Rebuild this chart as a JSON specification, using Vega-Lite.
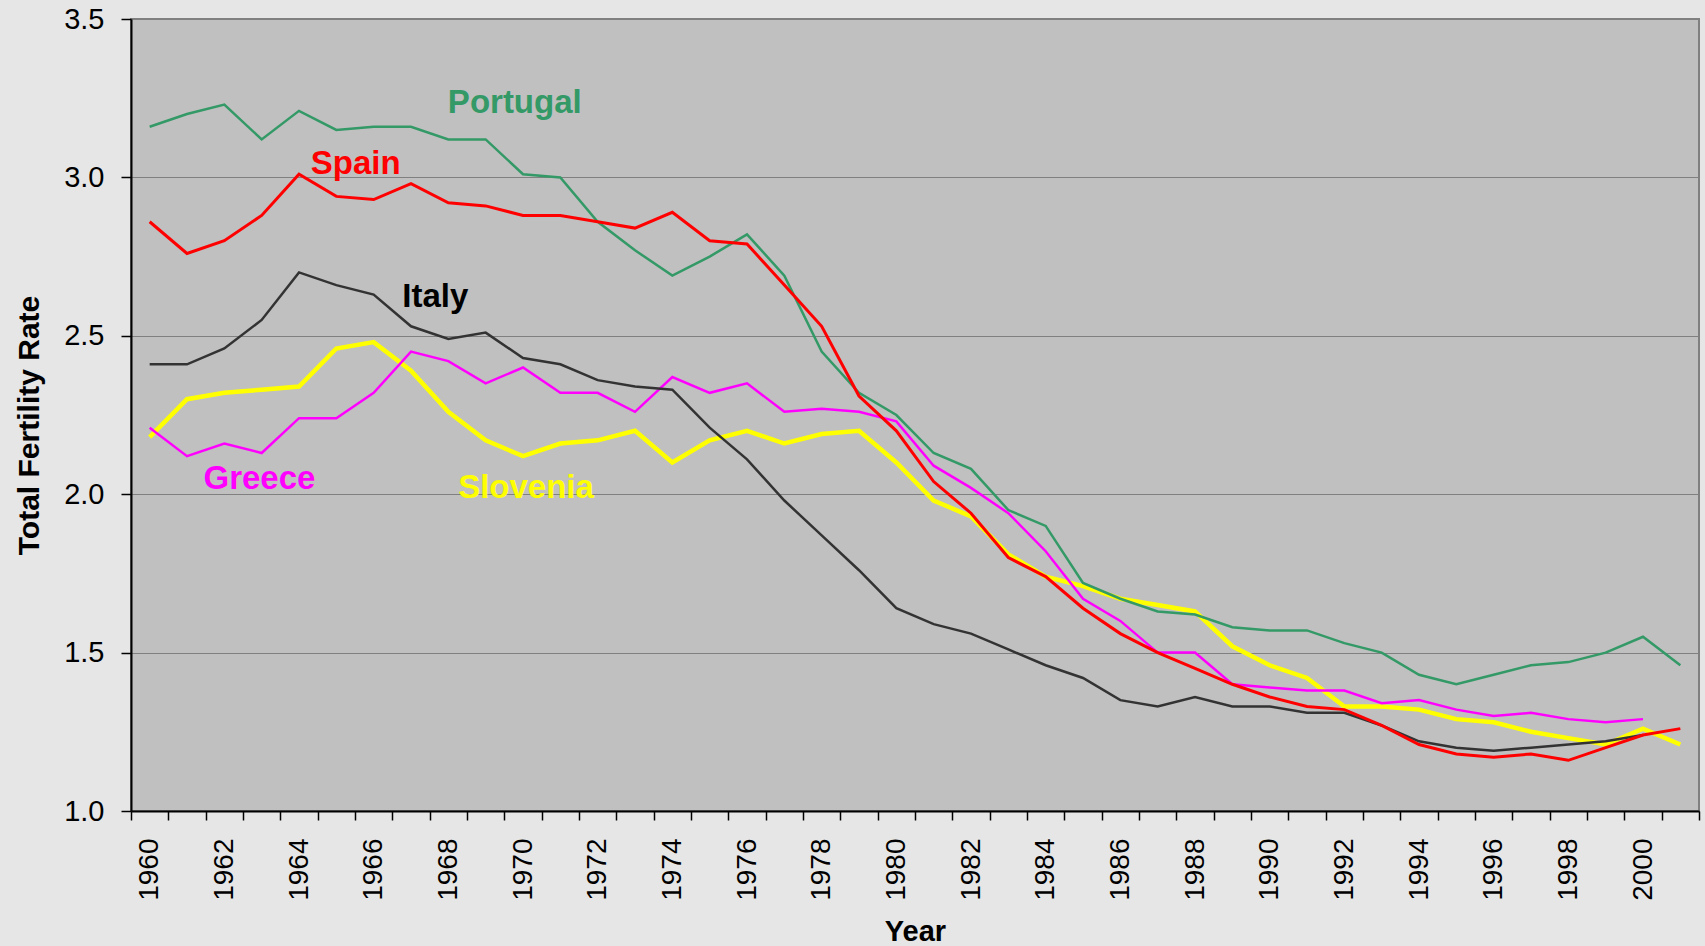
{
  "$schema": "https://vega.github.io/schema/vega-lite/v6.json",
  "width": 1568,
  "height": 792,
  "autosize": {"type": "none"},
  "padding": {"left": 131, "top": 19, "right": 6, "bottom": 135},
  "background": "#E6E6E6",
  "config": {
    "view": {"fill": "#C0C0C0", "stroke": "#808080", "strokeWidth": 2},
    "font": "Liberation Sans"
  },
  "datasets": {
    "tfr": [
      {"country": "Portugal", "year": 1960, "rate": 3.16}, {"country": "Portugal", "year": 1961, "rate": 3.20}, {"country": "Portugal", "year": 1962, "rate": 3.23}, {"country": "Portugal", "year": 1963, "rate": 3.12}, {"country": "Portugal", "year": 1964, "rate": 3.21}, {"country": "Portugal", "year": 1965, "rate": 3.15}, {"country": "Portugal", "year": 1966, "rate": 3.16}, {"country": "Portugal", "year": 1967, "rate": 3.16}, {"country": "Portugal", "year": 1968, "rate": 3.12}, {"country": "Portugal", "year": 1969, "rate": 3.12}, {"country": "Portugal", "year": 1970, "rate": 3.01}, {"country": "Portugal", "year": 1971, "rate": 3.00}, {"country": "Portugal", "year": 1972, "rate": 2.86}, {"country": "Portugal", "year": 1973, "rate": 2.77}, {"country": "Portugal", "year": 1974, "rate": 2.69}, {"country": "Portugal", "year": 1975, "rate": 2.75}, {"country": "Portugal", "year": 1976, "rate": 2.82}, {"country": "Portugal", "year": 1977, "rate": 2.69}, {"country": "Portugal", "year": 1978, "rate": 2.45}, {"country": "Portugal", "year": 1979, "rate": 2.32}, {"country": "Portugal", "year": 1980, "rate": 2.25}, {"country": "Portugal", "year": 1981, "rate": 2.13}, {"country": "Portugal", "year": 1982, "rate": 2.08}, {"country": "Portugal", "year": 1983, "rate": 1.95}, {"country": "Portugal", "year": 1984, "rate": 1.90}, {"country": "Portugal", "year": 1985, "rate": 1.72}, {"country": "Portugal", "year": 1986, "rate": 1.67}, {"country": "Portugal", "year": 1987, "rate": 1.63}, {"country": "Portugal", "year": 1988, "rate": 1.62}, {"country": "Portugal", "year": 1989, "rate": 1.58}, {"country": "Portugal", "year": 1990, "rate": 1.57}, {"country": "Portugal", "year": 1991, "rate": 1.57}, {"country": "Portugal", "year": 1992, "rate": 1.53}, {"country": "Portugal", "year": 1993, "rate": 1.50}, {"country": "Portugal", "year": 1994, "rate": 1.43}, {"country": "Portugal", "year": 1995, "rate": 1.40}, {"country": "Portugal", "year": 1996, "rate": 1.43}, {"country": "Portugal", "year": 1997, "rate": 1.46}, {"country": "Portugal", "year": 1998, "rate": 1.47}, {"country": "Portugal", "year": 1999, "rate": 1.50}, {"country": "Portugal", "year": 2000, "rate": 1.55}, {"country": "Portugal", "year": 2001, "rate": 1.46},
      {"country": "Spain", "year": 1960, "rate": 2.86}, {"country": "Spain", "year": 1961, "rate": 2.76}, {"country": "Spain", "year": 1962, "rate": 2.80}, {"country": "Spain", "year": 1963, "rate": 2.88}, {"country": "Spain", "year": 1964, "rate": 3.01}, {"country": "Spain", "year": 1965, "rate": 2.94}, {"country": "Spain", "year": 1966, "rate": 2.93}, {"country": "Spain", "year": 1967, "rate": 2.98}, {"country": "Spain", "year": 1968, "rate": 2.92}, {"country": "Spain", "year": 1969, "rate": 2.91}, {"country": "Spain", "year": 1970, "rate": 2.88}, {"country": "Spain", "year": 1971, "rate": 2.88}, {"country": "Spain", "year": 1972, "rate": 2.86}, {"country": "Spain", "year": 1973, "rate": 2.84}, {"country": "Spain", "year": 1974, "rate": 2.89}, {"country": "Spain", "year": 1975, "rate": 2.80}, {"country": "Spain", "year": 1976, "rate": 2.79}, {"country": "Spain", "year": 1977, "rate": 2.66}, {"country": "Spain", "year": 1978, "rate": 2.53}, {"country": "Spain", "year": 1979, "rate": 2.31}, {"country": "Spain", "year": 1980, "rate": 2.20}, {"country": "Spain", "year": 1981, "rate": 2.04}, {"country": "Spain", "year": 1982, "rate": 1.94}, {"country": "Spain", "year": 1983, "rate": 1.80}, {"country": "Spain", "year": 1984, "rate": 1.74}, {"country": "Spain", "year": 1985, "rate": 1.64}, {"country": "Spain", "year": 1986, "rate": 1.56}, {"country": "Spain", "year": 1987, "rate": 1.50}, {"country": "Spain", "year": 1988, "rate": 1.45}, {"country": "Spain", "year": 1989, "rate": 1.40}, {"country": "Spain", "year": 1990, "rate": 1.36}, {"country": "Spain", "year": 1991, "rate": 1.33}, {"country": "Spain", "year": 1992, "rate": 1.32}, {"country": "Spain", "year": 1993, "rate": 1.27}, {"country": "Spain", "year": 1994, "rate": 1.21}, {"country": "Spain", "year": 1995, "rate": 1.18}, {"country": "Spain", "year": 1996, "rate": 1.17}, {"country": "Spain", "year": 1997, "rate": 1.18}, {"country": "Spain", "year": 1998, "rate": 1.16}, {"country": "Spain", "year": 1999, "rate": 1.20}, {"country": "Spain", "year": 2000, "rate": 1.24}, {"country": "Spain", "year": 2001, "rate": 1.26},
      {"country": "Italy", "year": 1960, "rate": 2.41}, {"country": "Italy", "year": 1961, "rate": 2.41}, {"country": "Italy", "year": 1962, "rate": 2.46}, {"country": "Italy", "year": 1963, "rate": 2.55}, {"country": "Italy", "year": 1964, "rate": 2.70}, {"country": "Italy", "year": 1965, "rate": 2.66}, {"country": "Italy", "year": 1966, "rate": 2.63}, {"country": "Italy", "year": 1967, "rate": 2.53}, {"country": "Italy", "year": 1968, "rate": 2.49}, {"country": "Italy", "year": 1969, "rate": 2.51}, {"country": "Italy", "year": 1970, "rate": 2.43}, {"country": "Italy", "year": 1971, "rate": 2.41}, {"country": "Italy", "year": 1972, "rate": 2.36}, {"country": "Italy", "year": 1973, "rate": 2.34}, {"country": "Italy", "year": 1974, "rate": 2.33}, {"country": "Italy", "year": 1975, "rate": 2.21}, {"country": "Italy", "year": 1976, "rate": 2.11}, {"country": "Italy", "year": 1977, "rate": 1.98}, {"country": "Italy", "year": 1978, "rate": 1.87}, {"country": "Italy", "year": 1979, "rate": 1.76}, {"country": "Italy", "year": 1980, "rate": 1.64}, {"country": "Italy", "year": 1981, "rate": 1.59}, {"country": "Italy", "year": 1982, "rate": 1.56}, {"country": "Italy", "year": 1983, "rate": 1.51}, {"country": "Italy", "year": 1984, "rate": 1.46}, {"country": "Italy", "year": 1985, "rate": 1.42}, {"country": "Italy", "year": 1986, "rate": 1.35}, {"country": "Italy", "year": 1987, "rate": 1.33}, {"country": "Italy", "year": 1988, "rate": 1.36}, {"country": "Italy", "year": 1989, "rate": 1.33}, {"country": "Italy", "year": 1990, "rate": 1.33}, {"country": "Italy", "year": 1991, "rate": 1.31}, {"country": "Italy", "year": 1992, "rate": 1.31}, {"country": "Italy", "year": 1993, "rate": 1.27}, {"country": "Italy", "year": 1994, "rate": 1.22}, {"country": "Italy", "year": 1995, "rate": 1.20}, {"country": "Italy", "year": 1996, "rate": 1.19}, {"country": "Italy", "year": 1997, "rate": 1.20}, {"country": "Italy", "year": 1998, "rate": 1.21}, {"country": "Italy", "year": 1999, "rate": 1.22}, {"country": "Italy", "year": 2000, "rate": 1.24},
      {"country": "Greece", "year": 1960, "rate": 2.21}, {"country": "Greece", "year": 1961, "rate": 2.12}, {"country": "Greece", "year": 1962, "rate": 2.16}, {"country": "Greece", "year": 1963, "rate": 2.13}, {"country": "Greece", "year": 1964, "rate": 2.24}, {"country": "Greece", "year": 1965, "rate": 2.24}, {"country": "Greece", "year": 1966, "rate": 2.32}, {"country": "Greece", "year": 1967, "rate": 2.45}, {"country": "Greece", "year": 1968, "rate": 2.42}, {"country": "Greece", "year": 1969, "rate": 2.35}, {"country": "Greece", "year": 1970, "rate": 2.40}, {"country": "Greece", "year": 1971, "rate": 2.32}, {"country": "Greece", "year": 1972, "rate": 2.32}, {"country": "Greece", "year": 1973, "rate": 2.26}, {"country": "Greece", "year": 1974, "rate": 2.37}, {"country": "Greece", "year": 1975, "rate": 2.32}, {"country": "Greece", "year": 1976, "rate": 2.35}, {"country": "Greece", "year": 1977, "rate": 2.26}, {"country": "Greece", "year": 1978, "rate": 2.27}, {"country": "Greece", "year": 1979, "rate": 2.26}, {"country": "Greece", "year": 1980, "rate": 2.23}, {"country": "Greece", "year": 1981, "rate": 2.09}, {"country": "Greece", "year": 1982, "rate": 2.02}, {"country": "Greece", "year": 1983, "rate": 1.94}, {"country": "Greece", "year": 1984, "rate": 1.82}, {"country": "Greece", "year": 1985, "rate": 1.67}, {"country": "Greece", "year": 1986, "rate": 1.60}, {"country": "Greece", "year": 1987, "rate": 1.50}, {"country": "Greece", "year": 1988, "rate": 1.50}, {"country": "Greece", "year": 1989, "rate": 1.40}, {"country": "Greece", "year": 1990, "rate": 1.39}, {"country": "Greece", "year": 1991, "rate": 1.38}, {"country": "Greece", "year": 1992, "rate": 1.38}, {"country": "Greece", "year": 1993, "rate": 1.34}, {"country": "Greece", "year": 1994, "rate": 1.35}, {"country": "Greece", "year": 1995, "rate": 1.32}, {"country": "Greece", "year": 1996, "rate": 1.30}, {"country": "Greece", "year": 1997, "rate": 1.31}, {"country": "Greece", "year": 1998, "rate": 1.29}, {"country": "Greece", "year": 1999, "rate": 1.28}, {"country": "Greece", "year": 2000, "rate": 1.29},
      {"country": "Slovenia", "year": 1960, "rate": 2.18}, {"country": "Slovenia", "year": 1961, "rate": 2.30}, {"country": "Slovenia", "year": 1962, "rate": 2.32}, {"country": "Slovenia", "year": 1963, "rate": 2.33}, {"country": "Slovenia", "year": 1964, "rate": 2.34}, {"country": "Slovenia", "year": 1965, "rate": 2.46}, {"country": "Slovenia", "year": 1966, "rate": 2.48}, {"country": "Slovenia", "year": 1967, "rate": 2.39}, {"country": "Slovenia", "year": 1968, "rate": 2.26}, {"country": "Slovenia", "year": 1969, "rate": 2.17}, {"country": "Slovenia", "year": 1970, "rate": 2.12}, {"country": "Slovenia", "year": 1971, "rate": 2.16}, {"country": "Slovenia", "year": 1972, "rate": 2.17}, {"country": "Slovenia", "year": 1973, "rate": 2.20}, {"country": "Slovenia", "year": 1974, "rate": 2.10}, {"country": "Slovenia", "year": 1975, "rate": 2.17}, {"country": "Slovenia", "year": 1976, "rate": 2.20}, {"country": "Slovenia", "year": 1977, "rate": 2.16}, {"country": "Slovenia", "year": 1978, "rate": 2.19}, {"country": "Slovenia", "year": 1979, "rate": 2.20}, {"country": "Slovenia", "year": 1980, "rate": 2.10}, {"country": "Slovenia", "year": 1981, "rate": 1.98}, {"country": "Slovenia", "year": 1982, "rate": 1.93}, {"country": "Slovenia", "year": 1983, "rate": 1.81}, {"country": "Slovenia", "year": 1984, "rate": 1.74}, {"country": "Slovenia", "year": 1985, "rate": 1.71}, {"country": "Slovenia", "year": 1986, "rate": 1.67}, {"country": "Slovenia", "year": 1987, "rate": 1.65}, {"country": "Slovenia", "year": 1988, "rate": 1.63}, {"country": "Slovenia", "year": 1989, "rate": 1.52}, {"country": "Slovenia", "year": 1990, "rate": 1.46}, {"country": "Slovenia", "year": 1991, "rate": 1.42}, {"country": "Slovenia", "year": 1992, "rate": 1.33}, {"country": "Slovenia", "year": 1993, "rate": 1.33}, {"country": "Slovenia", "year": 1994, "rate": 1.32}, {"country": "Slovenia", "year": 1995, "rate": 1.29}, {"country": "Slovenia", "year": 1996, "rate": 1.28}, {"country": "Slovenia", "year": 1997, "rate": 1.25}, {"country": "Slovenia", "year": 1998, "rate": 1.23}, {"country": "Slovenia", "year": 1999, "rate": 1.21}, {"country": "Slovenia", "year": 2000, "rate": 1.26}, {"country": "Slovenia", "year": 2001, "rate": 1.21}
    ],
    "labels": [
      {"country": "Portugal", "year": 1969.78, "rate": 3.236},
      {"country": "Spain", "year": 1965.52, "rate": 3.043},
      {"country": "Italy", "year": 1967.65, "rate": 2.623},
      {"country": "Greece", "year": 1962.94, "rate": 2.047},
      {"country": "Slovenia", "year": 1970.08, "rate": 2.020}
    ]
  },
  "resolve": {"axis": {"x": "independent"}},
  "layer": [
    {
      "data": {"name": "tfr"},
      "transform": [{"filter": "datum.country == 'Slovenia'"}],
      "mark": {"type": "line", "color": "#FFFF00", "strokeWidth": 4.5},
      "encoding": {
        "x": {
          "field": "year", "type": "quantitative",
          "scale": {"domain": [1959.5, 2001.5], "nice": false, "zero": false},
          "axis": {
            "orient": "bottom",
            "values": [1959.5, 1960.5, 1961.5, 1962.5, 1963.5, 1964.5, 1965.5, 1966.5, 1967.5, 1968.5, 1969.5, 1970.5, 1971.5, 1972.5, 1973.5, 1974.5, 1975.5, 1976.5, 1977.5, 1978.5, 1979.5, 1980.5, 1981.5, 1982.5, 1983.5, 1984.5, 1985.5, 1986.5, 1987.5, 1988.5, 1989.5, 1990.5, 1991.5, 1992.5, 1993.5, 1994.5, 1995.5, 1996.5, 1997.5, 1998.5, 1999.5, 2000.5, 2001.5],
            "labels": false, "ticks": true, "tickSize": 9, "tickColor": "#000000", "tickWidth": 1.5,
            "domain": true, "domainColor": "#000000", "domainWidth": 2,
            "grid": false, "title": null
          }
        },
        "y": {
          "field": "rate", "type": "quantitative",
          "scale": {"domain": [1, 3.5], "nice": false, "zero": false},
          "axis": {
            "values": [1, 1.5, 2, 2.5, 3, 3.5], "format": ".1f",
            "labelFontSize": 29, "labelColor": "#000000", "labelPadding": 17, "labelFlush": false,
            "tickSize": 10, "tickColor": "#000000", "tickWidth": 1.5,
            "domainColor": "#000000", "domainWidth": 2,
            "grid": true, "gridColor": "#808080", "gridWidth": 1,
            "title": "Total Fertility Rate", "titleFontSize": 30, "titleFontWeight": "bold", "titleColor": "#000000", "titlePadding": 19, "titleY": 406
          }
        }
      }
    },
    {
      "data": {"name": "tfr"},
      "transform": [{"filter": "datum.country == 'Greece'"}],
      "mark": {"type": "line", "color": "#FF00FF", "strokeWidth": 2.5},
      "encoding": {
        "x": {
          "field": "year", "type": "quantitative",
          "axis": {
            "orient": "bottom",
            "values": [1960, 1962, 1964, 1966, 1968, 1970, 1972, 1974, 1976, 1978, 1980, 1982, 1984, 1986, 1988, 1990, 1992, 1994, 1996, 1998, 2000],
            "format": "d", "labelAngle": -90, "labelFontSize": 28, "labelColor": "#000000", "labelPadding": 18,
            "labelFlush": false, "labelOverlap": false,
            "ticks": true, "tickSize": 9, "tickOpacity": 0, "domain": false, "grid": false,
            "title": "Year", "titleFontSize": 29, "titleFontWeight": "bold", "titleColor": "#000000", "titlePadding": 17
          }
        },
        "y": {"field": "rate", "type": "quantitative"}
      }
    },
    {
      "data": {"name": "tfr"},
      "transform": [{"filter": "datum.country == 'Portugal'"}],
      "mark": {"type": "line", "color": "#339966", "strokeWidth": 2.5},
      "encoding": {
        "x": {"field": "year", "type": "quantitative", "axis": null},
        "y": {"field": "rate", "type": "quantitative"}
      }
    },
    {
      "data": {"name": "tfr"},
      "transform": [{"filter": "datum.country == 'Italy'"}],
      "mark": {"type": "line", "color": "#333333", "strokeWidth": 2.5},
      "encoding": {
        "x": {"field": "year", "type": "quantitative", "axis": null},
        "y": {"field": "rate", "type": "quantitative"}
      }
    },
    {
      "data": {"name": "tfr"},
      "transform": [{"filter": "datum.country == 'Spain'"}],
      "mark": {"type": "line", "color": "#FF0000", "strokeWidth": 3},
      "encoding": {
        "x": {"field": "year", "type": "quantitative", "axis": null},
        "y": {"field": "rate", "type": "quantitative"}
      }
    },
    {
      "data": {"name": "labels"},
      "mark": {"type": "text", "fontSize": 33, "fontWeight": "bold", "align": "center", "baseline": "middle"},
      "encoding": {
        "x": {"field": "year", "type": "quantitative", "axis": null},
        "y": {"field": "rate", "type": "quantitative"},
        "text": {"field": "country"},
        "color": {
          "field": "country", "type": "nominal", "legend": null,
          "scale": {"domain": ["Portugal", "Spain", "Italy", "Greece", "Slovenia"], "range": ["#339966", "#FF0000", "#000000", "#FF00FF", "#FFFF00"]}
        }
      }
    }
  ]
}
